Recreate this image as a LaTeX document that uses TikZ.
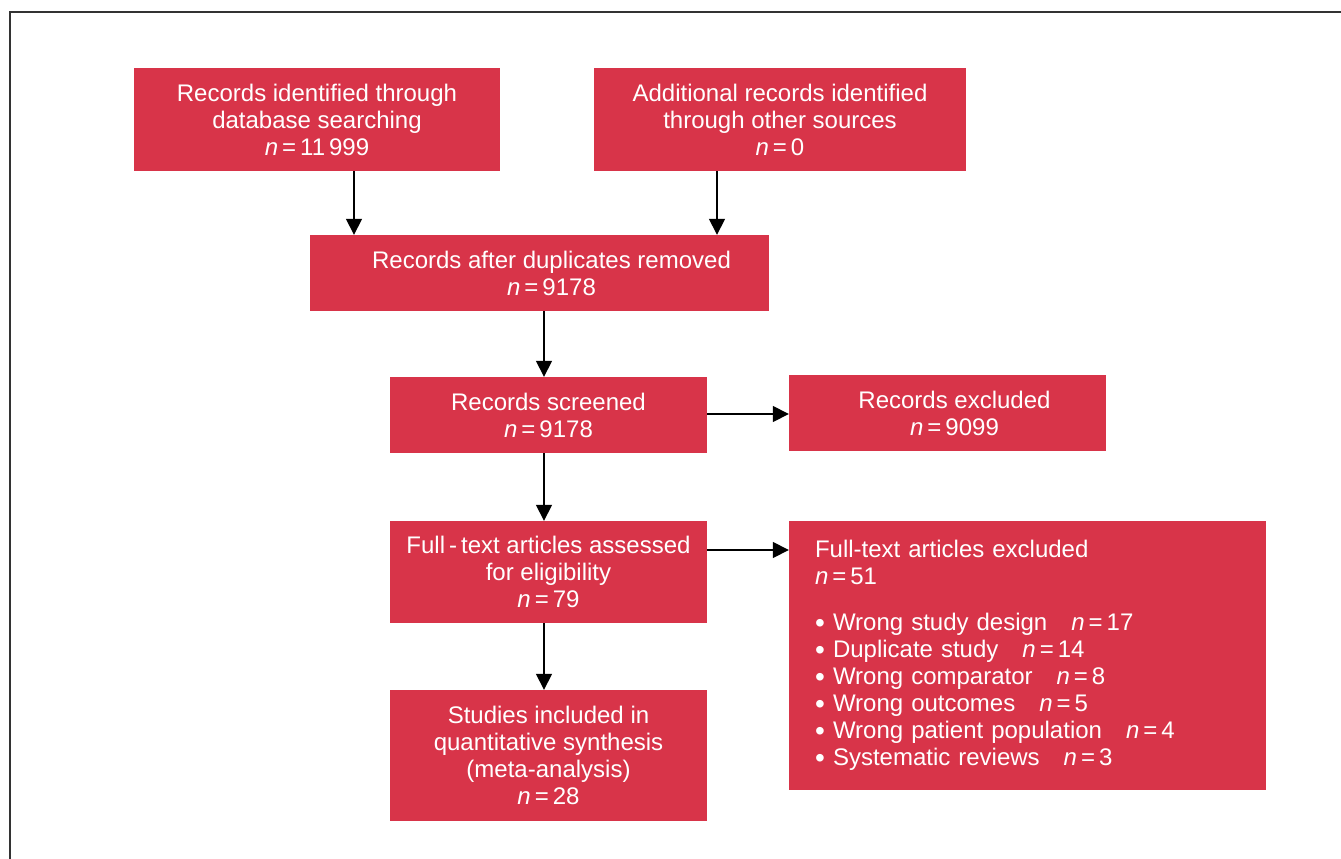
\documentclass[tikz,border=0pt]{standalone}
\usepackage{fontspec}
\setmainfont{Liberation Sans}
\usetikzlibrary{arrows.meta}
\definecolor{boxred}{RGB}{216,52,73}
\newcommand{\nval}[1]{\textit{n}\,=\,#1}
\newcommand{\bul}{\makebox[18pt][l]{\smash{\raisebox{-1.5pt}{\fontsize{28}{27}\selectfont\textbullet}}}}
\begin{document}
\begin{tikzpicture}[x=1pt,y=-1pt,
 box/.style={fill=boxred,text=white,align=center,inner sep=0pt,font=\fontsize{24}{27}\selectfont},
 arr/.style={-{Triangle[length=16pt,width=16pt]},line width=1.6pt}]
\useasboundingbox (0,0) rectangle (1341,859);
\draw[line width=1.5pt,color=black!80] (10,859) -- (10,12) -- (1341,12);
\node[box,minimum width=366,minimum height=103] (rid) at (317,119.5) {Records identified through\\database searching\\\nval{11\,999}};
\node[box,minimum width=372,minimum height=103] (add) at (780,119.5) {Additional records identified\\through other sources\\\nval{0}};
\node[box,minimum width=459,minimum height=76] (dup) at (539.5,273) {\hspace*{24pt}Records after duplicates removed\\\hspace*{24pt}\nval{9178}};
\node[box,minimum width=317,minimum height=76] (scr) at (548.5,415) {Records screened\\\nval{9178}};
\node[box,minimum width=317,minimum height=76] (exc) at (947.5,413) {\hspace*{14pt}Records excluded\\\hspace*{14pt}\nval{9099}};
\node[box,minimum width=317,minimum height=102] (ful) at (548.5,572) {Full\,-\,text articles assessed\\for eligibility\\\nval{79}};
\node[box,minimum width=477,minimum height=269,align=left,text width=425] (fex) at (1027.5,655.5) {Full-text articles excluded\\\nval{51}\\[19pt]
\bul Wrong study design\quad\nval{17}\\
\bul Duplicate study\quad\nval{14}\\
\bul Wrong comparator\quad\nval{8}\\
\bul Wrong outcomes\quad\nval{5}\\
\bul Wrong patient population\quad\nval{4}\\
\bul Systematic reviews\quad\nval{3}};
\node[box,minimum width=317,minimum height=131] (inc) at (548.5,755.5) {Studies included in\\quantitative synthesis\\(meta-analysis)\\\nval{28}};
\coordinate (c1) at (354,0);
\coordinate (c2) at (717,0);
\coordinate (c3) at (544,0);
\coordinate (h1) at (0,414);
\coordinate (h2) at (0,550);
\draw[arr] (rid.south -| c1) -- (dup.north -| c1);
\draw[arr] (add.south -| c2) -- (dup.north -| c2);
\draw[arr] (dup.south -| c3) -- (scr.north -| c3);
\draw[arr] (scr.south -| c3) -- (ful.north -| c3);
\draw[arr] (ful.south -| c3) -- (inc.north -| c3);
\draw[arr] (scr.east |- h1) -- (exc.west |- h1);
\draw[arr] (ful.east |- h2) -- (fex.west |- h2);
\end{tikzpicture}
\end{document}
